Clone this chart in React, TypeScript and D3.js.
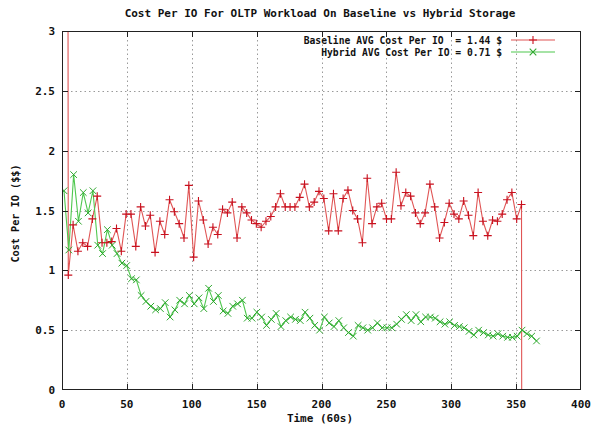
import React from "react";
import * as d3 from "d3";

// Sample spacing in time units (60s) and first sample time for each series
const BASELINE_START = 1.13;
const HYBRID_START = 1.54;
const SAMPLE_STEP = 3.716;

// Baseline cost per IO ($$); the first and last samples fall far outside the axis range
const baselineCost = [
  40,
  0.96, 1.38, 1.16, 1.23, 1.2, 1.43, 1.62, 1.23, 1.23, 1.24,
  1.35, 1.16, 1.47, 1.47, 1.2, 1.53, 1.37, 1.46, 1.15, 1.41,
  1.3, 1.59, 1.49, 1.39, 1.27, 1.71, 1.11, 1.58, 1.42, 1.22,
  1.36, 1.3, 1.51, 1.48, 1.57, 1.27, 1.53, 1.48, 1.42, 1.39,
  1.36, 1.41, 1.45, 1.53, 1.64, 1.53, 1.53, 1.53, 1.61, 1.72,
  1.53, 1.57, 1.66, 1.6, 1.33, 1.64, 1.33, 1.6, 1.67, 1.5,
  1.43, 1.23, 1.77, 1.39, 1.53, 1.56, 1.43, 1.43, 1.82, 1.54,
  1.65, 1.62, 1.48, 1.39, 1.48, 1.72, 1.53, 1.27, 1.4, 1.56,
  1.47, 1.43, 1.58, 1.46, 1.29, 1.65, 1.41, 1.29, 1.42, 1.41,
  1.47, 1.59, 1.65, 1.43, 1.55,
  -40,
];

// Hybrid storage cost per IO ($$)
const hybridCost = [
  1.665, 1.17, 1.8, 1.41, 1.65, 1.48, 1.665, 1.21, 1.14, 1.34,
  1.21, 1.14, 1.06, 1.04, 0.93, 0.92, 0.79, 0.74, 0.7, 0.67,
  0.68, 0.73, 0.61, 0.67, 0.75, 0.72, 0.79, 0.72, 0.77, 0.68,
  0.85, 0.74, 0.79, 0.66, 0.64, 0.7, 0.72, 0.75, 0.6, 0.6,
  0.65, 0.61, 0.54, 0.59, 0.64, 0.53, 0.58, 0.61, 0.59, 0.58,
  0.65, 0.6, 0.54, 0.5, 0.61, 0.56, 0.53, 0.58, 0.52, 0.48,
  0.45, 0.54, 0.52, 0.5, 0.52, 0.56, 0.52, 0.52, 0.52, 0.55,
  0.59, 0.63, 0.58, 0.63, 0.57, 0.61, 0.61, 0.6, 0.57, 0.55,
  0.57, 0.54, 0.53, 0.52, 0.49, 0.46, 0.5, 0.48, 0.46, 0.45,
  0.47, 0.45, 0.44, 0.44, 0.45, 0.5, 0.47, 0.45, 0.41,
];

const xTicks = [0, 50, 100, 150, 200, 250, 300, 350, 400];
const yTicks = [0, 0.5, 1, 1.5, 2, 2.5, 3];
const yTickLabels = ["0", "0.5", "1", "1.5", "2", "2.5", "3"];

const TITLE = "Cost Per IO For OLTP Workload On Baseline vs Hybrid Storage";
const X_TITLE = "Time (60s)";
const Y_TITLE = "Cost Per IO ($$)";
const LEGEND = [
  "Baseline AVG Cost Per IO  = 1.44 $",
  "Hybrid AVG Cost Per IO = 0.71 $",
];

const W = 591;
const H = 426;
const plot = { left: 62, right: 581, top: 31, bottom: 390 };

const RED_LINE = "#e05555";
const RED_MARK = "#c8101e";
const GREEN_LINE = "#4fc84f";
const GREEN_MARK = "#2fa82f";
const FONT = "'DejaVu Sans Mono', 'Liberation Mono', monospace";

type Pt = { t: number; v: number };

const toPoints = (vals: number[], start: number): Pt[] =>
  vals.map((v, i) => ({ t: start + i * SAMPLE_STEP, v }));

const plusPath = (x: number, y: number, r = 4) =>
  `M${x - r},${y}H${x + r}M${x},${y - r}V${y + r}`;
const crossPath = (x: number, y: number, r = 3.3) =>
  `M${x - r},${y - r}L${x + r},${y + r}M${x - r},${y + r}L${x + r},${y - r}`;

export default function App() {
  const x = d3.scaleLinear().domain([0, 400]).range([plot.left, plot.right]);
  const y = d3.scaleLinear().domain([0, 3]).range([plot.bottom, plot.top]);

  const base = toPoints(baselineCost, BASELINE_START);
  const hyb = toPoints(hybridCost, HYBRID_START);

  const line = d3
    .line<Pt>()
    .x((d) => x(d.t))
    .y((d) => y(d.v));

  const textStyle = {
    fontFamily: FONT,
    fontWeight: 700,
    fontSize: 11,
    fill: "#111",
  } as const;

  const legendTextX = 502;
  const legendLineX0 = 511;
  const legendLineX1 = 555;
  const legendRows = [40, 52];

  return (
    <svg
      width={W}
      height={H}
      viewBox={`0 0 ${W} ${H}`}
      style={{ position: "absolute", left: 0, top: 0, background: "#fff" }}
    >
      <defs>
        <clipPath id="plot-clip">
          <rect
            x={plot.left}
            y={plot.top}
            width={plot.right - plot.left}
            height={plot.bottom - plot.top}
          />
        </clipPath>
      </defs>
      <rect width={W} height={H} fill="#fff" />

      {/* grid */}
      <g stroke="#9a9a9a" strokeWidth={1} strokeDasharray="1.5,3">
        {xTicks.slice(1, -1).map((t) => (
          <line
            key={`gx${t}`}
            x1={Math.round(x(t)) + 0.5}
            x2={Math.round(x(t)) + 0.5}
            y1={plot.top}
            y2={plot.bottom}
          />
        ))}
        {yTicks.slice(1, -1).map((t) => (
          <line
            key={`gy${t}`}
            x1={plot.left}
            x2={plot.right}
            y1={Math.round(y(t)) + 0.5}
            y2={Math.round(y(t)) + 0.5}
          />
        ))}
      </g>

      {/* series */}
      <g clipPath="url(#plot-clip)">
        <path d={line(base) ?? ""} fill="none" stroke={RED_LINE} strokeWidth={1.1} />
        <path d={line(hyb) ?? ""} fill="none" stroke={GREEN_LINE} strokeWidth={1.1} />
        <path
          d={base.map((d) => plusPath(x(d.t), y(d.v))).join("")}
          stroke={RED_MARK}
          strokeWidth={1.1}
          fill="none"
        />
        <path
          d={hyb.map((d) => crossPath(x(d.t), y(d.v))).join("")}
          stroke={GREEN_MARK}
          strokeWidth={1}
          fill="none"
        />
      </g>

      {/* frame and ticks */}
      <g stroke="#222" strokeWidth={1} fill="none">
        <rect
          x={plot.left + 0.5}
          y={plot.top + 0.5}
          width={plot.right - plot.left - 1}
          height={plot.bottom - plot.top - 1}
        />
        {xTicks.slice(1, -1).map((t) => {
          const px = Math.round(x(t)) + 0.5;
          return (
            <g key={`tx${t}`}>
              <line x1={px} x2={px} y1={plot.bottom} y2={plot.bottom - 6} />
              <line x1={px} x2={px} y1={plot.top} y2={plot.top + 6} />
            </g>
          );
        })}
        {yTicks.slice(1, -1).map((t) => {
          const py = Math.round(y(t)) + 0.5;
          return (
            <g key={`ty${t}`}>
              <line x1={plot.left} x2={plot.left + 6} y1={py} y2={py} />
              <line x1={plot.right} x2={plot.right - 6} y1={py} y2={py} />
            </g>
          );
        })}
      </g>

      {/* tick labels */}
      {xTicks.map((t) => (
        <text key={`lx${t}`} x={x(t)} y={408} textAnchor="middle" style={textStyle}>
          {t}
        </text>
      ))}
      {yTicks.map((t, i) => (
        <text key={`ly${t}`} x={55} y={y(t) + 4} textAnchor="end" style={textStyle}>
          {yTickLabels[i]}
        </text>
      ))}

      {/* titles */}
      <text x={320} y={17} textAnchor="middle" style={textStyle}>
        {TITLE}
      </text>
      <text x={320} y={422} textAnchor="middle" style={textStyle}>
        {X_TITLE}
      </text>
      <text
        transform={`translate(19,${(plot.top + plot.bottom) / 2 + 3}) rotate(-90)`}
        textAnchor="middle"
        style={{ ...textStyle, fontSize: 10.2 }}
      >
        {Y_TITLE}
      </text>

      {/* legend */}
      {LEGEND.map((label, i) => {
        const ly = legendRows[i];
        const cx = (legendLineX0 + legendLineX1) / 2;
        return (
          <g key={label}>
            <text
              x={legendTextX}
              y={ly + 4}
              textAnchor="end"
              style={{ ...textStyle, fontSize: 9.7, whiteSpace: "pre" }}
              xmlSpace="preserve"
            >
              {label}
            </text>
            <line
              x1={legendLineX0}
              x2={legendLineX1}
              y1={ly}
              y2={ly}
              stroke={i === 0 ? RED_LINE : GREEN_LINE}
              strokeWidth={1.1}
            />
            <path
              d={i === 0 ? plusPath(cx, ly) : crossPath(cx, ly)}
              stroke={i === 0 ? RED_MARK : GREEN_MARK}
              strokeWidth={1.1}
              fill="none"
            />
          </g>
        );
      })}
    </svg>
  );
}
